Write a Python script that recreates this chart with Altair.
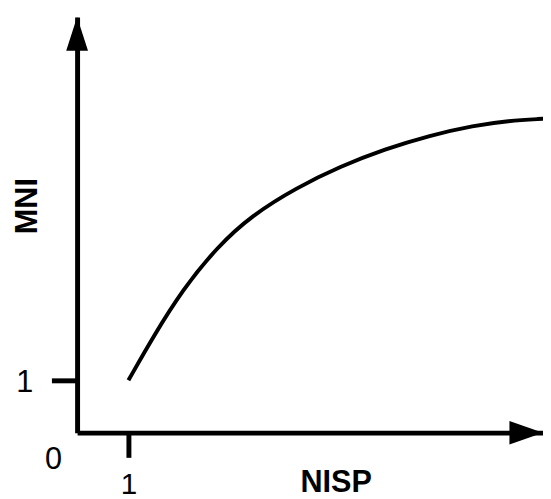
import altair as alt
import pandas as pd

# Curve (data units: 1 tick = 1 unit)
nisp = [1.0, 1.48, 2.06, 2.73, 3.4, 4.27, 5.13, 6.0, 6.87, 7.73, 8.4, 9.08]
mni = [1.0, 1.83, 2.74, 3.55, 4.15, 4.68, 5.09, 5.42, 5.68, 5.87, 5.96, 6.0]

X_MAX = 9.077
Y_MAX = 7.943
tick_values = [1]
origin_label = ["0"]

FONT = "Liberation Sans"

curve = pd.DataFrame({"NISP": nisp, "MNI": mni})
arrows = pd.DataFrame({
    "NISP": [0, X_MAX],
    "MNI": [Y_MAX, 0],
    "shape": ["M0,0L-0.65,2L0.65,2Z", "M0,0L-2,-0.7L-2,0.7Z"],
})
zero = pd.DataFrame({"NISP": [-0.46], "MNI": [-0.53], "label": origin_label})

xscale = alt.Scale(domain=[0, X_MAX], nice=False, zero=False)
yscale = alt.Scale(domain=[0, Y_MAX], nice=False, zero=False)

xaxis = alt.Axis(
    values=tick_values, format="d", grid=False,
    tickSize=25, tickWidth=5, tickColor="black",
    domainColor="black", domainWidth=5,
    labelFont=FONT, labelFontSize=30, labelColor="black",
    labelPadding=13, labelFlush=False,
    title="NISP", titleFont=FONT, titleFontSize=31, titleFontWeight="bold",
    titleColor="black", titleX=262, titleY=60, titleBaseline="alphabetic",
    titleAlign="center", titleAngle=0,
)
yaxis = alt.Axis(
    values=tick_values, format="d", grid=False,
    tickSize=26, tickWidth=5, tickColor="black",
    domainColor="black", domainWidth=5,
    labelFont=FONT, labelFontSize=31, labelColor="black",
    labelPadding=19, labelFlush=False, labelOffset=2,
    title="MNI", titleFont=FONT, titleFontSize=31, titleFontWeight="bold",
    titleColor="black", titleX=-41, titleY=191, titleBaseline="alphabetic",
    titleAlign="center", titleAngle=270,
)

line = alt.Chart(curve).mark_line(color="black", strokeWidth=4, interpolate="basis").encode(
    x=alt.X("NISP:Q", scale=xscale, axis=xaxis),
    y=alt.Y("MNI:Q", scale=yscale, axis=yaxis),
)

heads = alt.Chart(arrows).mark_point(filled=True, color="black", opacity=1, size=1156, strokeWidth=0).encode(
    x=alt.X("NISP:Q", scale=xscale),
    y=alt.Y("MNI:Q", scale=yscale),
    shape=alt.Shape("shape:N", scale=None, legend=None),
)

zero_text = alt.Chart(zero).mark_text(font=FONT, fontSize=31, color="black", align="center", baseline="middle").encode(
    x=alt.X("NISP:Q", scale=xscale),
    y=alt.Y("MNI:Q", scale=yscale),
    text="label:N",
)

chart = alt.layer(line, heads, zero_text).properties(
    width=472, height=421,
    autosize=alt.AutoSizeParams(type="none"),
    padding={"left": 70, "top": 6, "right": 0, "bottom": 64},
).configure_view(stroke=None)

chart.save("out.html", embed_options={"renderer": "svg", "actions": False})
